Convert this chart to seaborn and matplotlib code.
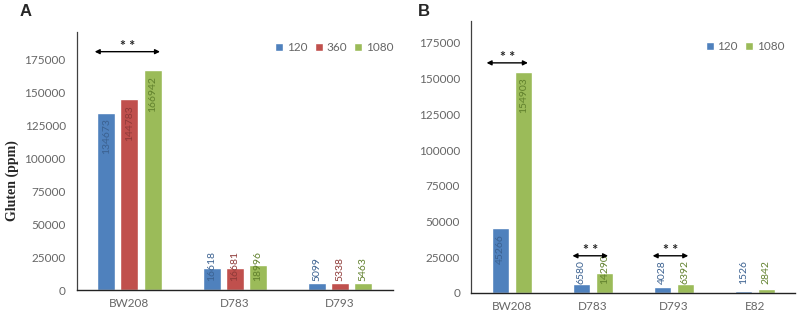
import matplotlib
matplotlib.use('Agg')
import matplotlib.pyplot as plt
from matplotlib.patches import Patch
import seaborn as sns
import pandas as pd

# panel A data
a_lines = ['BW208', 'D783', 'D793']
a_times = ['120', '360', '1080']
a_120 = [134673, 16618, 5099]
a_360 = [144783, 16681, 5338]
a_1080 = [166942, 18996, 5463]

# panel B data
b_lines = ['BW208', 'D783', 'D793', 'E82']
b_times = ['120', '1080']
b_120 = [45266, 6580, 4028, 1526]
b_1080 = [154903, 14290, 6392, 2842]

# significance brackets: (category index, left offset, right offset, y)
a_sig = [(0, -0.33, 0.29, 181000)]
b_sig = [(0, -0.31, 0.20, 161000), (1, -0.25, 0.19, 26000), (2, -0.26, 0.18, 26000)]

colors = {'120': '#4F81BD', '360': '#C0504D', '1080': '#9BBB59'}
label_colors = {'120': '#3B6190', '360': '#8E3A38', '1080': '#60802C'}
grey = '#666666'


def make_df(lines, times, series):
    rows = []
    for t, vals in zip(times, series):
        for line, v in zip(lines, vals):
            rows.append({'Line': line, 'Time': t, 'Gluten': v})
    return pd.DataFrame(rows)


def draw_panel(ax, df, times, group_width, bar_width, ylim, sig, leg_anchor):
    sns.barplot(data=df, x='Line', y='Gluten', hue='Time', hue_order=times,
                palette=colors, width=group_width, dodge=True, legend=False,
                saturation=1, errorbar=None, ax=ax)
    ax.set_ylim(0, ylim)
    ax.set_xlim(-0.5, len(df['Line'].unique()) - 0.5)

    # shrink bars so there is a gap between them (Excel style)
    for t, cont in zip(times, ax.containers):
        for p in cont.patches:
            cx = p.get_x() + p.get_width() / 2
            p.set_width(bar_width)
            p.set_x(cx - bar_width / 2)
            h = p.get_height()
            # label inside the bar if it fits, otherwise just above baseline
            px_h = ax.transData.transform((0, h))[1] - ax.transData.transform((0, 0))[1]
            if px_h > 35:
                ax.annotate(f'{int(h)}', (cx, h), xytext=(0, -4), textcoords='offset points',
                            rotation=90, ha='center', va='top', fontsize=7.5,
                            color=label_colors[t], family='Lato')
            else:
                ax.annotate(f'{int(h)}', (cx, 0), xytext=(0, 6.5), textcoords='offset points',
                            rotation=90, ha='center', va='bottom', fontsize=7.5,
                            color=label_colors[t], family='Lato')

    for i, l, r, y in sig:
        ax.annotate('', xy=(i + l, y), xytext=(i + r, y),
                    arrowprops=dict(arrowstyle='<|-|>', color='black', lw=1.0,
                                    mutation_scale=7, shrinkA=0, shrinkB=0))
        ax.text(i + (l + r) / 2, y, '* *', ha='center', va='bottom', fontsize=10,
                fontweight='bold', color='#222222')

    ax.set_xlabel('')
    ax.set_ylabel('')
    ax.set_yticks(range(0, 175001, 25000))
    ax.tick_params(axis='y', labelsize=8.5, labelcolor=grey, length=3, width=0.8,
                   color='#404040', pad=5)
    ax.tick_params(axis='x', labelsize=8.5, labelcolor=grey, length=0, pad=6)
    for lab in ax.get_xticklabels() + ax.get_yticklabels():
        lab.set_family('Lato')
    sns.despine(ax=ax)
    ax.spines['left'].set_color('#404040')
    ax.spines['bottom'].set_color('#222222')
    ax.spines['left'].set_linewidth(0.9)
    ax.spines['bottom'].set_linewidth(1.0)

    handles = [Patch(facecolor=colors[t], label=t) for t in times]
    ax.legend(handles=handles, loc='center', bbox_to_anchor=leg_anchor, ncol=len(times),
              frameon=False, handlelength=0.7, handleheight=0.7, handletextpad=0.3,
              columnspacing=0.6, prop={'family': 'Lato', 'size': 8.5}, labelcolor=grey)


sns.set_style('white')
plt.rcParams['font.family'] = ['Lato', 'DejaVu Sans']

fig = plt.figure(figsize=(8, 3.16), dpi=100)
ax_a = fig.add_axes([0.096, 0.082, 0.395, 0.817])
ax_b = fig.add_axes([0.589, 0.073, 0.405, 0.861])

df_a = make_df(a_lines, a_times, [a_120, a_360, a_1080])
df_b = make_df(b_lines, b_times, [b_120, b_1080])

draw_panel(ax_a, df_a, a_times, 0.657, 0.171, 196000, a_sig, (0.815, 0.94))
draw_panel(ax_b, df_b, b_times, 0.568, 0.21, 190400, b_sig, (0.845, 0.905))

fig.text(0.015, 0.43, 'Gluten (ppm)', rotation=90, ha='center', va='center',
         family='Liberation Serif', fontweight='bold', fontsize=10)
fig.text(0.025, 0.965, 'A', ha='left', va='center', family='Liberation Sans',
         fontweight='bold', fontsize=12)
fig.text(0.522, 0.965, 'B', ha='left', va='center', family='Liberation Sans',
         fontweight='bold', fontsize=12)

fig.savefig('out.png', dpi=100)
